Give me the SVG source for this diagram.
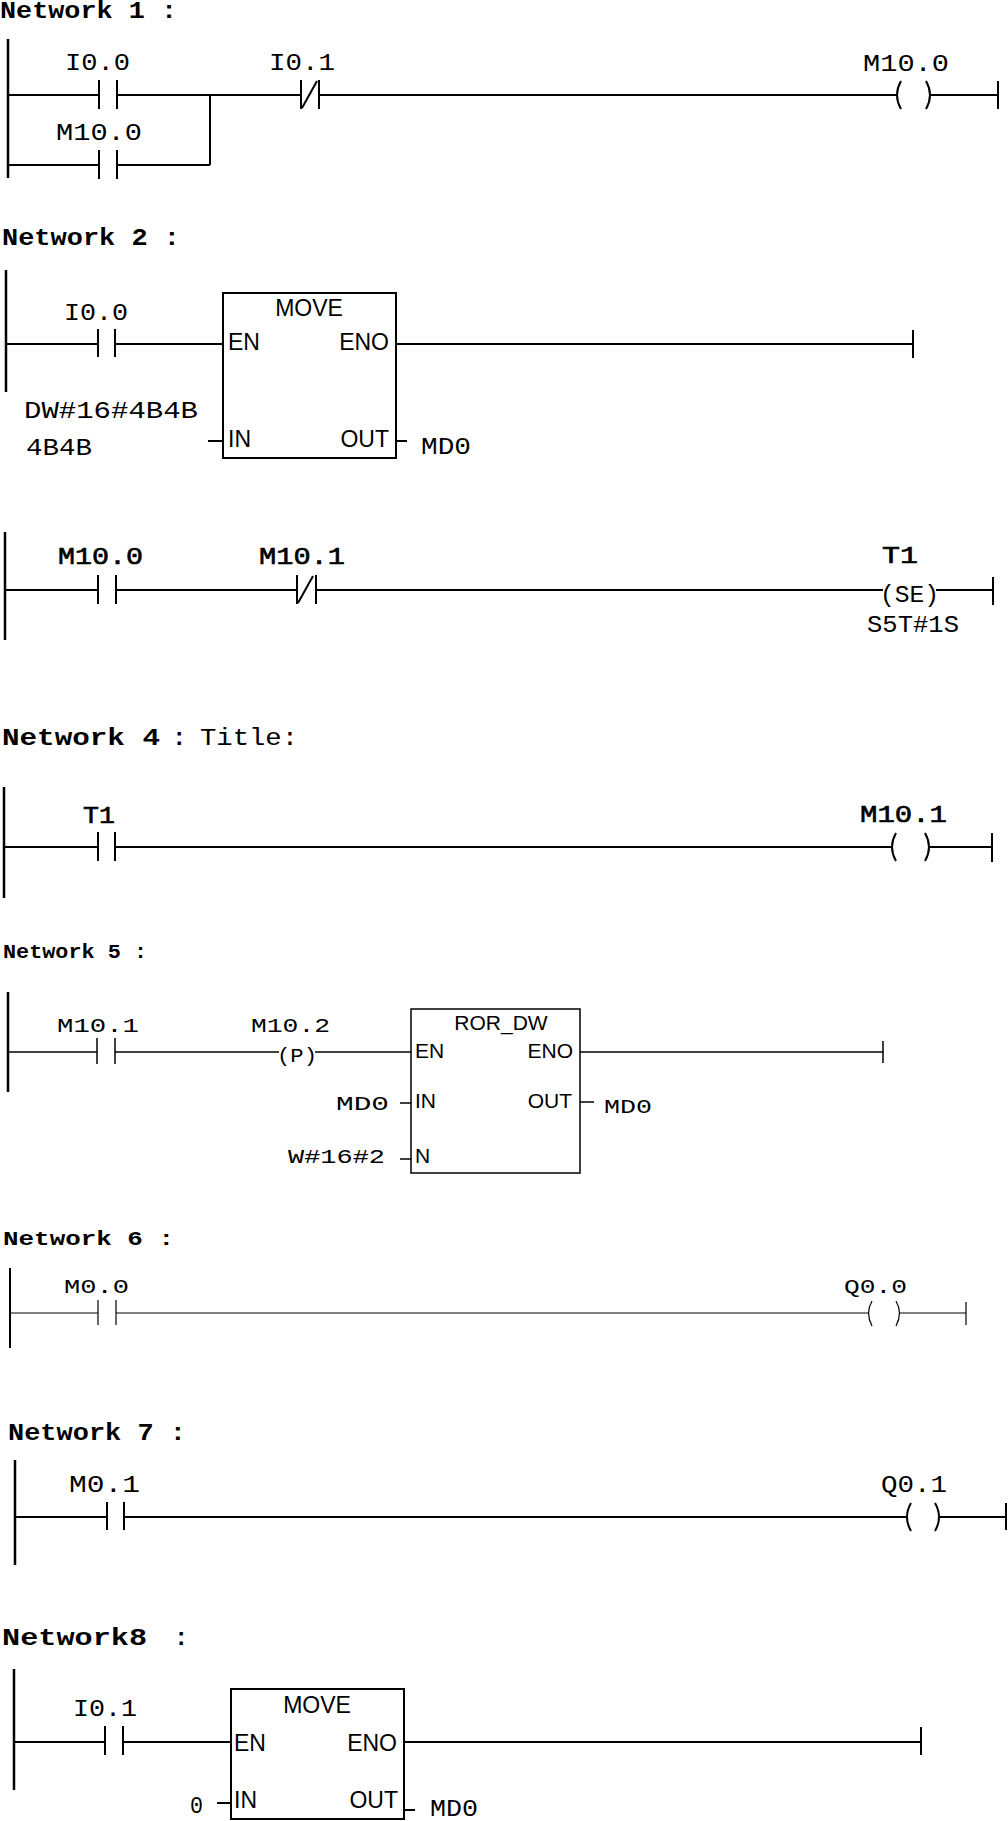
<svg xmlns="http://www.w3.org/2000/svg" width="1008" height="1821" viewBox="0 0 1008 1821">
<style>
.title{font-family:"Liberation Mono",monospace;font-weight:bold;font-size:24px;fill:#000}
.reg{font-family:"Liberation Mono",monospace;font-size:24px;fill:#000}
.lbl{font-family:"Liberation Mono",monospace;font-size:24px;fill:#000}
.pin{font-family:"Liberation Sans",Arial,sans-serif;font-size:23px;fill:#000}
.w{stroke:#000;stroke-width:2;fill:none}
.w15{stroke:#000;stroke-width:1.5;fill:none}
.w1{stroke:#000;stroke-width:1.2;fill:none}
.rail{stroke:#000;stroke-width:2.5;fill:none}
</style>
<rect x="0" y="0" width="1008" height="1821" fill="#fff"/>

<!-- Network 1 -->
<g id="net1">
<text class="title" x="0" y="18" textLength="177" lengthAdjust="spacingAndGlyphs">Network 1 :</text>
<g id="net1-connectors" class="w">
<line class="rail" x1="8" y1="39" x2="8" y2="178"/>
<line x1="8" y1="95" x2="99" y2="95"/>
<line x1="117" y1="95" x2="301" y2="95"/>
<line x1="319" y1="95" x2="897" y2="95"/>
<line x1="930" y1="95" x2="998" y2="95"/>
<line x1="8" y1="165" x2="99" y2="165"/>
<line x1="117" y1="165" x2="210" y2="165"/>
<line x1="210" y1="95" x2="210" y2="165"/>
</g>
<g id="net1-I0.0" class="w"><line x1="99" y1="80" x2="99" y2="109"/><line x1="117" y1="80" x2="117" y2="109"/>
<text class="lbl" x="65" y="70" textLength="65" lengthAdjust="spacingAndGlyphs" stroke="none">I0.0</text></g>
<g id="net1-M10.0c" class="w"><line x1="99" y1="150" x2="99" y2="179"/><line x1="117" y1="150" x2="117" y2="179"/>
<text class="lbl" x="56" y="140" textLength="86" lengthAdjust="spacingAndGlyphs" stroke="none">M10.0</text></g>
<g id="net1-I0.1" class="w"><line x1="301" y1="80" x2="301" y2="109"/><line x1="319" y1="80" x2="319" y2="109"/><line x1="302" y1="108" x2="317" y2="81"/>
<text class="lbl" x="269" y="70" textLength="66" lengthAdjust="spacingAndGlyphs" stroke="none">I0.1</text></g>
<g id="net1-M10.0" class="w"><path d="M901,81 Q893,95 901,109"/><path d="M926,81 Q934,95 926,109"/>
<text class="lbl" x="863" y="71" textLength="86" lengthAdjust="spacingAndGlyphs" stroke="none">M10.0</text></g>
<g id="net1-end" class="w"><line x1="998" y1="81" x2="998" y2="109"/></g>
</g>

<!-- Network 2 -->
<g id="net2">
<text class="title" x="2" y="245" textLength="178" lengthAdjust="spacingAndGlyphs">Network 2 :</text>
<g id="net2-connectors" class="w">
<line class="rail" x1="6" y1="270" x2="6" y2="392"/>
<line x1="6" y1="344" x2="98" y2="344"/>
<line x1="115" y1="344" x2="223" y2="344"/>
<line x1="396" y1="344" x2="913" y2="344"/>
<line x1="208" y1="441" x2="223" y2="441"/>
<line x1="396" y1="441" x2="407" y2="441"/>
<line x1="913" y1="330" x2="913" y2="358"/>
</g>
<g id="net2-I0.0" class="w"><line x1="98" y1="329" x2="98" y2="357"/><line x1="115" y1="329" x2="115" y2="357"/>
<text class="lbl" x="64" y="320" textLength="64" lengthAdjust="spacingAndGlyphs" stroke="none">I0.0</text></g>
<g id="net2-MOVE">
<rect class="w" x="223" y="293" width="173" height="165"/>
<text class="pin" x="309" y="316" text-anchor="middle">MOVE</text>
<text class="pin" x="228" y="350">EN</text>
<text class="pin" x="389" y="350" text-anchor="end">ENO</text>
<text class="pin" x="228" y="447">IN</text>
<text class="pin" x="389" y="447" text-anchor="end">OUT</text>
</g>
<text class="lbl" x="24" y="418" textLength="174" lengthAdjust="spacingAndGlyphs">DW#16#4B4B</text>
<text class="lbl" x="26" y="455" textLength="66" lengthAdjust="spacingAndGlyphs">4B4B</text>
<text class="lbl" x="421" y="454" textLength="50" lengthAdjust="spacingAndGlyphs">MD0</text>
</g>

<!-- Network 3 -->
<g id="net3">
<g id="net3-connectors" class="w">
<line class="rail" x1="5" y1="532" x2="5" y2="640"/>
<line x1="5" y1="590" x2="98" y2="590"/>
<line x1="116" y1="590" x2="297" y2="590"/>
<line x1="316" y1="590" x2="883" y2="590"/>
<line x1="936" y1="590" x2="993" y2="590"/>
<line x1="993" y1="577" x2="993" y2="605"/>
</g>
<g id="net3-M10.0" class="w"><line x1="98" y1="575" x2="98" y2="604"/><line x1="116" y1="575" x2="116" y2="604"/>
<text class="lbl" x="58" y="564" textLength="85" lengthAdjust="spacingAndGlyphs" stroke="#000" stroke-width="0.6">M10.0</text></g>
<g id="net3-M10.1" class="w"><line x1="297" y1="575" x2="297" y2="604"/><line x1="316" y1="575" x2="316" y2="604"/><line x1="298" y1="603" x2="313" y2="576"/>
<text class="lbl" x="259" y="564" textLength="86" lengthAdjust="spacingAndGlyphs" stroke="#000" stroke-width="0.6">M10.1</text></g>
<g id="net3-T1">
<text class="lbl" x="882" y="563" textLength="36" lengthAdjust="spacingAndGlyphs" stroke="#000" stroke-width="0.6">T1</text>
<text class="lbl" x="880" y="602" textLength="59" lengthAdjust="spacingAndGlyphs">(SE)</text>
<text class="lbl" x="867" y="632" textLength="92" lengthAdjust="spacingAndGlyphs">S5T#1S</text>
</g>
</g>

<!-- Network 4 -->
<g id="net4">
<text class="title" x="2" y="745" textLength="158" lengthAdjust="spacingAndGlyphs">Network 4</text>
<text class="title" x="172" y="745">:</text>
<text class="reg" x="200" y="745" textLength="98" lengthAdjust="spacingAndGlyphs">Title:</text>
<g id="net4-connectors" class="w">
<line class="rail" x1="4" y1="787" x2="4" y2="898"/>
<line x1="4" y1="847" x2="98" y2="847"/>
<line x1="115" y1="847" x2="892" y2="847"/>
<line x1="929" y1="847" x2="992" y2="847"/>
<line x1="992" y1="833" x2="992" y2="862"/>
</g>
<g id="net4-T1" class="w"><line x1="98" y1="832" x2="98" y2="861"/><line x1="115" y1="832" x2="115" y2="861"/>
<text class="lbl" x="83" y="823" textLength="32" lengthAdjust="spacingAndGlyphs" stroke="#000" stroke-width="0.6">T1</text></g>
<g id="net4-M10.1" class="w"><path d="M896,833 Q888,847 896,861"/><path d="M925,833 Q933,847 925,861"/>
<text class="lbl" x="860" y="822" textLength="87" lengthAdjust="spacingAndGlyphs" stroke="#000" stroke-width="0.6">M10.1</text></g>
</g>

<!-- Network 5 -->
<g id="net5">
<text class="title" x="3" y="958" textLength="144" lengthAdjust="spacingAndGlyphs" style="font-size:21px">Network 5 :</text>
<g id="net5-connectors" class="w15">
<line class="rail" x1="8" y1="992" x2="8" y2="1092"/>
<line x1="8" y1="1052" x2="97" y2="1052"/>
<line x1="115" y1="1052" x2="279" y2="1052"/>
<line x1="315" y1="1052" x2="411" y2="1052"/>
<line x1="580" y1="1052" x2="883" y2="1052"/>
<line x1="883" y1="1041" x2="883" y2="1063"/>
<line x1="400" y1="1103" x2="411" y2="1103"/>
<line x1="400" y1="1159" x2="411" y2="1159"/>
<line x1="580" y1="1102" x2="594" y2="1102"/>
</g>
<g id="net5-M10.1" class="w15"><line x1="97" y1="1038" x2="97" y2="1064"/><line x1="115" y1="1038" x2="115" y2="1064"/>
<text class="lbl" x="57" y="1032" textLength="82" lengthAdjust="spacingAndGlyphs" stroke="none" style="font-size:21px">M10.1</text></g>
<g id="net5-M10.2">
<text class="lbl" x="251" y="1032" textLength="79" lengthAdjust="spacingAndGlyphs" style="font-size:21px">M10.2</text>
<text class="lbl" x="277" y="1062" textLength="40" lengthAdjust="spacingAndGlyphs" style="font-size:21px">(P)</text>
</g>
<g id="net5-ROR_DW">
<rect class="w15" x="411" y="1009" width="169" height="164"/>
<text class="pin" x="501" y="1030" text-anchor="middle" style="font-size:21px">ROR_DW</text>
<text class="pin" x="415" y="1058" style="font-size:21px">EN</text>
<text class="pin" x="573" y="1058" text-anchor="end" style="font-size:21px">ENO</text>
<text class="pin" x="415" y="1108" style="font-size:21px">IN</text>
<text class="pin" x="572" y="1108" text-anchor="end" style="font-size:21px">OUT</text>
<text class="pin" x="415" y="1163" style="font-size:21px">N</text>
</g>
<text class="lbl" x="336" y="1110" textLength="53" lengthAdjust="spacingAndGlyphs" style="font-size:21px">MD0</text>
<text class="lbl" x="288" y="1163" textLength="97" lengthAdjust="spacingAndGlyphs" style="font-size:21px">W#16#2</text>
<text class="lbl" x="604" y="1113" textLength="48" lengthAdjust="spacingAndGlyphs" style="font-size:21px">MD0</text>
</g>

<!-- Network 6 -->
<g id="net6">
<text class="title" x="3" y="1245" textLength="171" lengthAdjust="spacingAndGlyphs" style="font-size:21px">Network 6 :</text>
<g id="net6-connectors" class="w1">
<line x1="10" y1="1268" x2="10" y2="1348" stroke-width="2"/>
<line x1="10" y1="1313" x2="98" y2="1313"/>
<line x1="116" y1="1313" x2="868" y2="1313"/>
<line x1="900" y1="1313" x2="966" y2="1313"/>
<line x1="966" y1="1302" x2="966" y2="1325"/>
</g>
<g id="net6-M0.0" class="w1"><line x1="98" y1="1300" x2="98" y2="1325"/><line x1="116" y1="1300" x2="116" y2="1325"/>
<text class="lbl" x="64" y="1293" textLength="65" lengthAdjust="spacingAndGlyphs" stroke="none" style="font-size:21px">M0.0</text></g>
<g id="net6-Q0.0" class="w1"><path d="M872,1301 Q865,1313 872,1326"/><path d="M896,1301 Q903,1313 896,1326"/>
<text class="lbl" x="844" y="1293" textLength="63" lengthAdjust="spacingAndGlyphs" stroke="none" style="font-size:21px">Q0.0</text></g>
</g>

<!-- Network 7 -->
<g id="net7">
<text class="title" x="8" y="1440" textLength="178" lengthAdjust="spacingAndGlyphs">Network 7 :</text>
<g id="net7-connectors" class="w">
<line class="rail" x1="15" y1="1460" x2="15" y2="1565"/>
<line x1="15" y1="1517" x2="107" y2="1517"/>
<line x1="124" y1="1517" x2="907" y2="1517"/>
<line x1="939" y1="1517" x2="1006" y2="1517"/>
<line x1="1006" y1="1503" x2="1006" y2="1530"/>
</g>
<g id="net7-M0.1" class="w"><line x1="107" y1="1502" x2="107" y2="1530"/><line x1="124" y1="1502" x2="124" y2="1530"/>
<text class="lbl" x="69" y="1492" textLength="71" lengthAdjust="spacingAndGlyphs" stroke="none">M0.1</text></g>
<g id="net7-Q0.1" class="w"><path d="M911,1503 Q903,1517 911,1531"/><path d="M935,1503 Q943,1517 935,1531"/>
<text class="lbl" x="881" y="1492" textLength="66" lengthAdjust="spacingAndGlyphs" stroke="none">Q0.1</text></g>
</g>

<!-- Network 8 -->
<g id="net8">
<text class="title" x="2" y="1645" textLength="145" lengthAdjust="spacingAndGlyphs">Network8</text>
<text class="title" x="174" y="1645">:</text>
<g id="net8-connectors" class="w">
<line class="rail" x1="14" y1="1669" x2="14" y2="1790"/>
<line x1="14" y1="1742" x2="105" y2="1742"/>
<line x1="123" y1="1742" x2="231" y2="1742"/>
<line x1="404" y1="1742" x2="921" y2="1742"/>
<line x1="921" y1="1727" x2="921" y2="1755"/>
<line x1="217" y1="1803" x2="231" y2="1803"/>
<line x1="404" y1="1810" x2="415" y2="1810"/>
</g>
<g id="net8-I0.1" class="w"><line x1="105" y1="1726" x2="105" y2="1755"/><line x1="123" y1="1726" x2="123" y2="1755"/>
<text class="lbl" x="73" y="1716" textLength="64" lengthAdjust="spacingAndGlyphs" stroke="none">I0.1</text></g>
<g id="net8-MOVE">
<rect class="w" x="231" y="1689" width="173" height="130"/>
<text class="pin" x="317" y="1713" text-anchor="middle">MOVE</text>
<text class="pin" x="234" y="1751">EN</text>
<text class="pin" x="397" y="1751" text-anchor="end">ENO</text>
<text class="pin" x="234" y="1808">IN</text>
<text class="pin" x="398" y="1808" text-anchor="end">OUT</text>
</g>
<text class="lbl" x="190" y="1813" textLength="13" lengthAdjust="spacingAndGlyphs">0</text>
<text class="lbl" x="430" y="1816" textLength="48" lengthAdjust="spacingAndGlyphs">MD0</text>
</g>
</svg>
